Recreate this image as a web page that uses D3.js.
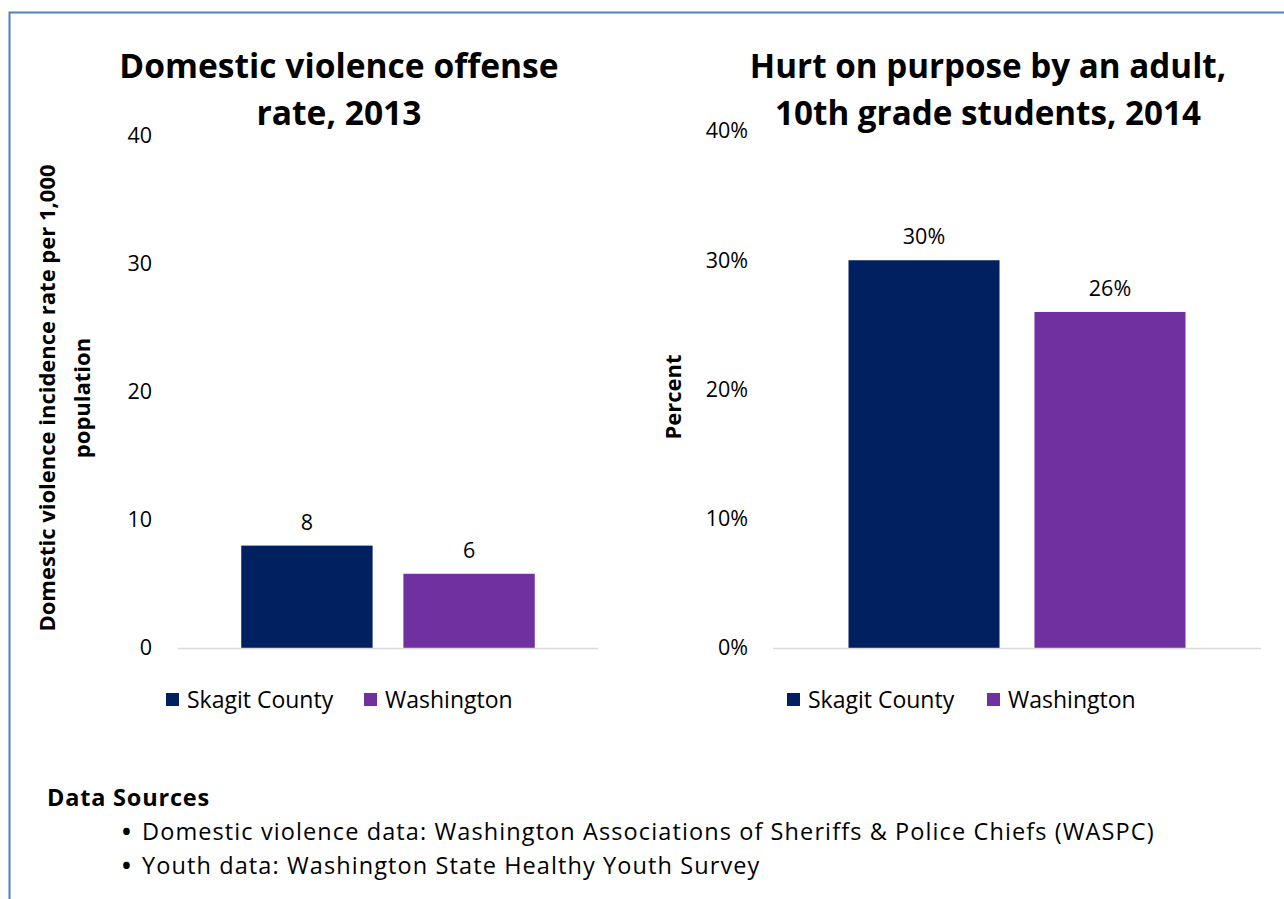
<!DOCTYPE html>
<html>
<head>
<meta charset="utf-8">
<script src="https://cdn.jsdelivr.net/npm/d3@7"></script>
<style>
  html, body { margin: 0; padding: 0; background: #fff; }
  svg { display: block; font-family: "Open Sans", Lato, sans-serif; }
</style>
</head>
<body>
<svg id="chart" width="1284" height="899"></svg>
<script>
// Series shared by both panels
const seriesNames = ["Skagit County", "Washington"];
const seriesColors = ["#002060", "#7030A0"];

// Domestic violence offense rate per 1,000 population, 2013
const dvRates = [8.0, 5.8];
const dvTicks = [0, 10, 20, 30, 40];

// Hurt on purpose by an adult, 10th grade students, 2014 (share)
const hurtShares = [0.30, 0.26];
const hurtTicks = [0, 0.1, 0.2, 0.3, 0.4];

const sources = [
  "Domestic violence data: Washington Associations of Sheriffs & Police Chiefs (WASPC)",
  "Youth data: Washington State Healthy Youth Survey"
];

const svg = d3.select("#chart");

// outer frame
svg.append("rect")
  .attr("x", 9.5).attr("y", 12.5)
  .attr("width", 1300).attr("height", 920)
  .attr("fill", "none").attr("stroke", "#4f81bd").attr("stroke-width", 2);

function panel(cfg) {
  const g = svg.append("g");
  const y = d3.scaleLinear().domain(cfg.domain).range([648, cfg.yTop]);
  const x = d3.scaleBand().domain(seriesNames)
    .range([cfg.x0, cfg.x1]).paddingInner(cfg.pi).paddingOuter(cfg.po);

  // value axis labels (no line)
  const yAxis = d3.axisLeft(y).tickValues(cfg.ticks).tickSize(0).tickPadding(0)
    .tickFormat(cfg.tickFmt);
  const ya = g.append("g").attr("transform", `translate(${cfg.tickX},0)`).call(yAxis);
  ya.select(".domain").remove();
  ya.selectAll("text").attr("font-family", "'Open Sans', sans-serif")
    .attr("font-size", 21.5).attr("fill", "#000");

  // bars
  g.selectAll("rect.bar").data(cfg.values).join("rect")
    .attr("class", "bar")
    .attr("x", (d, i) => x(seriesNames[i]))
    .attr("width", x.bandwidth())
    .attr("y", d => y(d))
    .attr("height", d => y(0) - y(d))
    .attr("fill", (d, i) => seriesColors[i]);

  // category axis baseline
  g.append("line")
    .attr("x1", cfg.x0).attr("x2", cfg.x1)
    .attr("y1", y(0) + 0.5).attr("y2", y(0) + 0.5)
    .attr("stroke", "#d9d9d9").attr("stroke-width", 1.5);

  // data labels
  g.selectAll("text.lbl").data(cfg.values).join("text")
    .attr("class", "lbl")
    .attr("x", (d, i) => x(seriesNames[i]) + x.bandwidth() / 2)
    .attr("y", d => y(d) - 16)
    .attr("text-anchor", "middle")
    .attr("font-size", 21.5)
    .text(cfg.labelFmt);

  // title
  const t = g.append("text").attr("text-anchor", "middle")
    .attr("font-family", "'Open Sans', sans-serif")
    .attr("font-weight", "bold").attr("font-size", cfg.titleSize);
  cfg.title.forEach((line, i) => {
    t.append("tspan").attr("x", cfg.titleX).attr("y", 78 + i * 47).text(line);
  });

  // axis title
  const at = g.append("text")
    .attr("transform", `translate(${cfg.axisTitleX},${cfg.axisTitleY}) rotate(-90)`)
    .attr("text-anchor", "middle")
    .attr("font-family", "'Open Sans', sans-serif")
    .attr("font-weight", "bold").attr("font-size", 22);
  cfg.axisTitle.forEach((line, i) => {
    at.append("tspan").attr("x", 0).attr("y", i * 35).text(line);
  });

  // legend
  const lg = g.append("g");
  seriesNames.forEach((name, i) => {
    const lx = cfg.legendX[i];
    lg.append("rect").attr("x", lx).attr("y", 693).attr("width", 13).attr("height", 13)
      .attr("fill", seriesColors[i]);
    lg.append("text").attr("x", lx + 21).attr("y", 708)
      .attr("font-size", 23).text(name);
  });
}

panel({
  domain: [0, 40], ticks: dvTicks, values: dvRates, yTop: 136,
  tickFmt: d3.format("d"), labelFmt: d3.format(".0f"),
  x0: 178, x1: 598, pi: 0.19, po: 0.39, tickX: 152,
  title: ["Domestic violence offense", "rate, 2013"], titleX: 339, titleSize: 33.6,
  axisTitle: ["Domestic violence incidence rate per 1,000", "population"],
  axisTitleX: 55, axisTitleY: 398,
  legendX: [166, 364]
});

panel({
  domain: [0, 0.4], ticks: hurtTicks, values: hurtShares, yTop: 131,
  tickFmt: d3.format(".0%"), labelFmt: d3.format(".0%"),
  x0: 773, x1: 1261, pi: 0.188, po: 0.406, tickX: 748,
  title: ["Hurt on purpose by an adult,", "10th grade students, 2014"], titleX: 988, titleSize: 33.2,
  axisTitle: ["Percent"],
  axisTitleX: 681, axisTitleY: 397,
  legendX: [787, 987]
});

// data sources note
const notes = svg.append("g").attr("font-family", "'Open Sans', sans-serif")
  .attr("font-size", 23.5).attr("letter-spacing", 1.1);
notes.append("text").attr("x", 47).attr("y", 806).attr("font-weight", "bold")
  .attr("letter-spacing", 0.8).text("Data Sources");
sources.forEach((s, i) => {
  notes.append("text").attr("x", 122).attr("y", 840 + i * 34)
    .attr("font-weight", "bold").text("\u2022");
  notes.append("text").attr("x", 142).attr("y", 840 + i * 34).text(s);
});
</script>
</body>
</html>
